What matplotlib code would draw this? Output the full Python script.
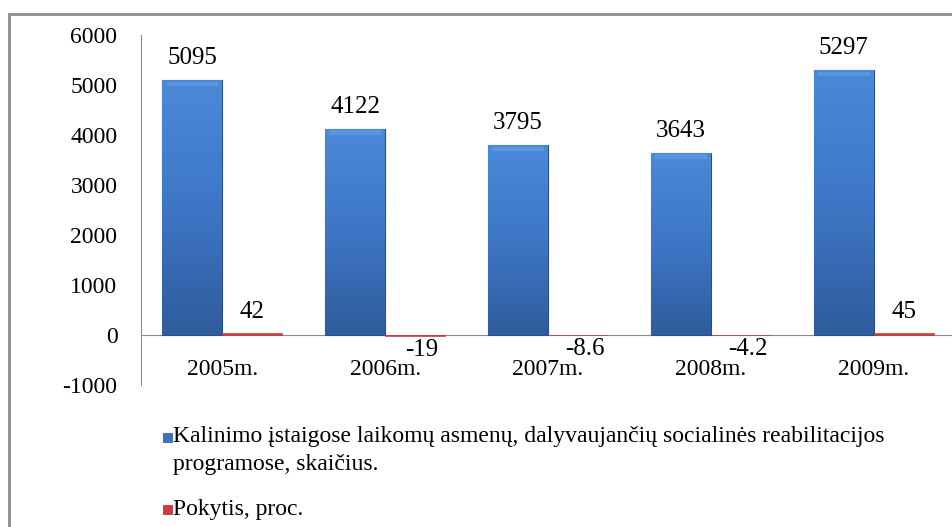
import numpy as np
import matplotlib
matplotlib.use('Agg')
import matplotlib.pyplot as plt
from matplotlib.patches import Rectangle
from matplotlib.colors import LinearSegmentedColormap

# dati
years = ["2005m.", "2006m.", "2007m.", "2008m.", "2009m."]
persons = [5095, 4122, 3795, 3643, 5297]
change_pct = [42, -19, -8.6, -4.2, 45]
label_persons = "Kalinimo įstaigose laikomų asmenų, dalyvaujančių socialinės reabilitacijos\nprogramose, skaičius."
label_change = "Pokytis, proc."
yticks = [-1000, 0, 1000, 2000, 3000, 4000, 5000, 6000]

plt.rcParams['font.family'] = ['Liberation Serif', 'DejaVu Serif']

W, H = 953, 527
fig = plt.figure(figsize=(W / 100, H / 100), dpi=100)
fig.patch.set_facecolor("white")

# cornice grigia (esce a destra e in basso)
fig.add_artist(Rectangle((9 / W, -0.2), 1.2, 1.2 - 14 / H,
                         transform=fig.transFigure, fill=False,
                         edgecolor="#8C8C8C", linewidth=2.0))

ax = fig.add_axes([141 / W, 1 - 385 / H, 814 / W, 350 / H])
ax.set_facecolor("none")

# spine prima dei tick (set_position resetta i tick)
for s in ["top", "right"]:
    ax.spines[s].set_visible(False)
ax.spines["bottom"].set_position(("data", 0))
ax.spines["bottom"].set_color("#8C8C8C")
ax.spines["left"].set_color("#8C8C8C")
ax.spines["bottom"].set_zorder(2)

x = np.arange(len(years))
bw = 0.368

blue_bars = ax.bar(x - bw / 2, persons, width=bw, color="#3B72C2",
                   edgecolor="#2A4F86", linewidth=0.8, zorder=3)
red_bars = ax.bar(x + bw / 2, change_pct, width=bw, color="#D23B3B",
                  edgecolor="#C03030", linewidth=0.4, zorder=3)

# sfumatura verticale sulle barre blu
cmap = LinearSegmentedColormap.from_list("b", ["#2F5C9C", "#3E76C6", "#4A8AD9"])
grad = np.linspace(0, 1, 256).reshape(-1, 1)
for b in blue_bars:
    x0, y0 = b.get_x(), b.get_y()
    im = ax.imshow(grad, cmap=cmap, aspect='auto', origin='lower',
                   extent=[x0, x0 + b.get_width(), y0, y0 + b.get_height()],
                   zorder=3.5)
    im.set_clip_path(b)
    ax.add_patch(Rectangle((x0 + 0.025, b.get_height() - 120), b.get_width() - 0.05, 90,
                           facecolor="#6FA6E8", edgecolor="none", alpha=0.45, zorder=3.6))

ax.set_xlim(-0.5, len(years) - 0.5)
ax.set_ylim(-1000, 6000)
ax.set_yticks(yticks)
ax.set_yticklabels([str(t) for t in yticks], fontsize=17)
ax.tick_params(axis='y', length=0, pad=17)

ax.set_xticks(x)
ax.set_xticklabels(years, fontsize=17)
ax.tick_params(axis='x', length=0, pad=17)

# etichette valori
for xi, v in zip(x, persons):
    ax.annotate(f"{v}", (xi - bw / 2, v), xytext=(0, 16), textcoords="offset points",
                ha="center", va="center", fontsize=18)
for xi, v in zip(x, change_pct):
    txt = f"{v:g}"
    if v >= 0:
        ax.annotate(txt, (xi + bw / 2, v), xytext=(0, 15), textcoords="offset points",
                    ha="center", va="center", fontsize=18)
    else:
        ax.annotate(txt, (xi + bw / 2, v), xytext=(5, -10), textcoords="offset points",
                    ha="center", va="center", fontsize=18)

# legenda manuale
fig.add_artist(Rectangle((163 / W, 1 - 442 / H), 9 / W, 9 / H,
                         transform=fig.transFigure, facecolor="#3B72C2", edgecolor="#2A4F86",
                         linewidth=0.5))
fig.text(173 / W, 1 - 426 / H, label_persons, fontsize=17, va="top",
         ha="left", linespacing=1.45)
fig.add_artist(Rectangle((163 / W, 1 - 514 / H), 9 / W, 9 / H,
                         transform=fig.transFigure, facecolor="#D23B3B", edgecolor="#A02828",
                         linewidth=0.5))
fig.text(173 / W, 1 - 509 / H, label_change, fontsize=17, va="center", ha="left")

fig.savefig("out.png", dpi=100, facecolor=fig.get_facecolor())
